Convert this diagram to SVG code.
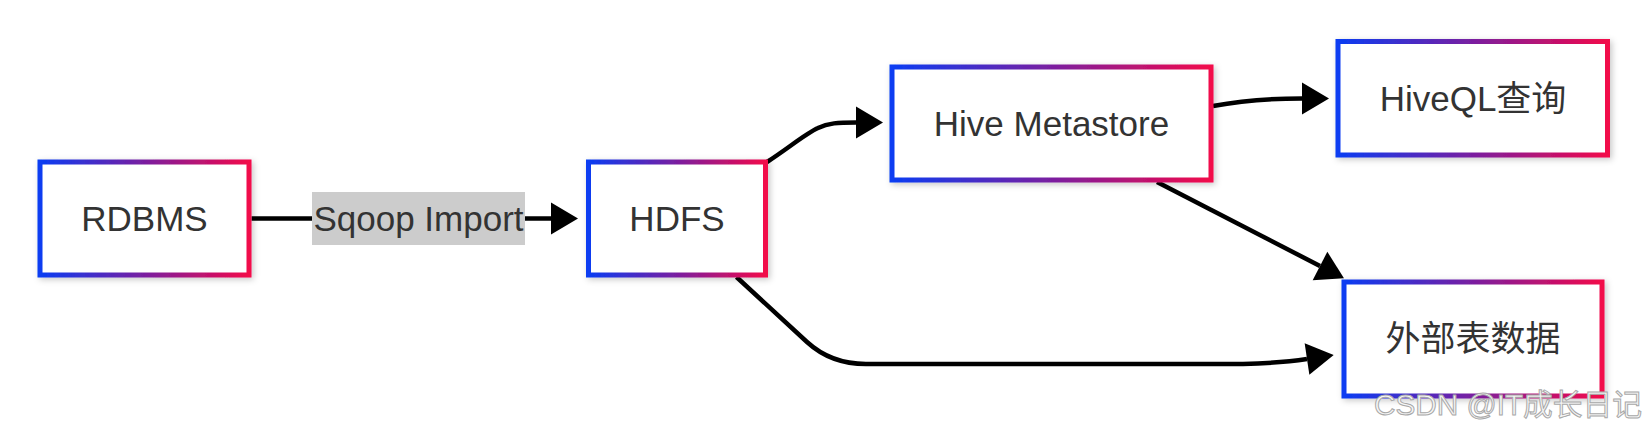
<svg xmlns="http://www.w3.org/2000/svg" width="1646" height="430" viewBox="0 0 1646 430">
  <defs>
    <linearGradient id="grad" x1="0" y1="0" x2="1" y2="0">
      <stop offset="0" stop-color="#0a3cf2"/>
      <stop offset="0.5" stop-color="#7a1fa0"/>
      <stop offset="1" stop-color="#f2084a"/>
    </linearGradient>
    <filter id="shadow" x="-10%" y="-15%" width="125%" height="135%">
      <feDropShadow dx="2" dy="2" stdDeviation="3" flood-color="#000" flood-opacity="0.22"/>
    </filter>
    <marker id="arrow" markerUnits="userSpaceOnUse" markerWidth="27" markerHeight="32" refX="0" refY="16" orient="auto" viewBox="0 0 27 32" overflow="visible">
      <path d="M0,0 L27,16 L0,32 z" fill="#000"/>
    </marker>
    <style>
      .box { fill: #ffffff; stroke: url(#grad); stroke-width: 5; filter: url(#shadow); }
      .lbl { font-family: "Liberation Sans", "Noto Sans CJK SC", sans-serif; font-size: 35px; fill: #333333; text-anchor: middle; }
      .edge { fill: none; stroke: #000; stroke-width: 4.5; marker-end: url(#arrow); }
      .wm { font-family: "Liberation Sans", "Noto Sans CJK SC", sans-serif; font-size: 30px; fill: #f6f6f6; stroke: #a8a8a8; stroke-width: 1; text-anchor: end; }
    </style>
  </defs>

  <g id="connectors">
    <path class="edge" d="M251.5,218.5 L551,218.5"/>
    <path class="edge" d="M767,162 C790,147 805,134 818,128 C828,123 838,122.5 856,122.5"/>
    <path class="edge" d="M1213,106 C1240,101 1265,98.5 1302,98.5"/>
    <path class="edge" d="M1157,182 L1320,266"/>
    <path class="edge" d="M736.5,277 L807,342 Q831,364 866,364 L1243,364 Q1280,363 1307,359"/>
  </g>

  <g id="edge-label-sqoop">
    <rect x="312" y="192" width="213" height="53" fill="#cccccc"/>
    <text class="lbl" x="418.5" y="230.5">Sqoop Import</text>
  </g>

  <g id="node-rdbms">
    <rect class="box" x="40" y="162" width="209" height="113"/>
    <text class="lbl" x="144.5" y="230.5">RDBMS</text>
  </g>

  <g id="node-hdfs">
    <rect class="box" x="588.5" y="162" width="177" height="113"/>
    <text class="lbl" x="677" y="230.5">HDFS</text>
  </g>

  <g id="node-metastore">
    <rect class="box" x="892" y="67" width="319" height="113"/>
    <text class="lbl" x="1051.5" y="135.5">Hive Metastore</text>
  </g>

  <g id="node-hiveql">
    <rect class="box" x="1338" y="41.5" width="269.5" height="113.5"/>
    <text class="lbl" x="1473" y="110.5">HiveQL查询</text>
  </g>

  <g id="node-external">
    <rect class="box" x="1344" y="282" width="258" height="114"/>
    <text class="lbl" x="1473" y="351">外部表数据</text>
  </g>

  <text class="wm" x="1642" y="415" textLength="268" lengthAdjust="spacingAndGlyphs">CSDN @IT成长日记</text>
</svg>
